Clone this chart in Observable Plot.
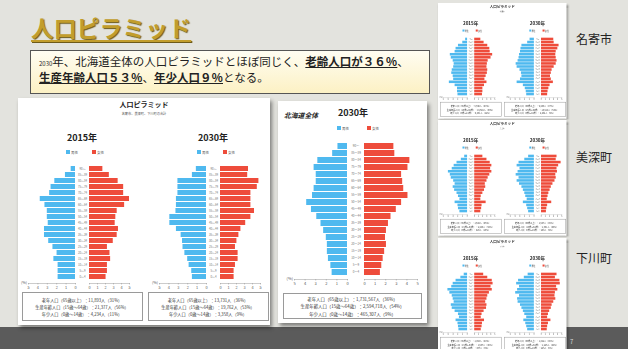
<!DOCTYPE html>
<html><head><meta charset="utf-8">
<script src="https://cdn.jsdelivr.net/npm/d3@7"></script>
<script src="https://cdn.jsdelivr.net/npm/@observablehq/plot@0.6"></script>
<style>
html,body{margin:0;padding:0;}
body{width:628px;height:349px;overflow:hidden;background:#e3e3de;font-family:"Noto Sans CJK JP",sans-serif;position:relative;}
.abs{position:absolute;}
.card{position:absolute;background:#fff;box-shadow:2px 3px 4px rgba(0,0,0,0.45);transform-origin:0 0;overflow:hidden;}
.sum{position:absolute;border:0.7px solid #9a9a9a;box-sizing:border-box;text-align:center;color:#333;}
.u{font-weight:bold;text-decoration:underline;text-underline-offset:1px;}
</style></head><body>
<script>
// ---- data ----
const ages = ["90～","85～89","80～84","75～79","70～74","65～69","60～64","55～59","50～54","45～49","40～44","35～39","30～34","25～29","20～24","15～19","10～14","5～9","0～4"];
const xTicks = [0,1,2,3,4,5];
const sexes = ["男性","女性"];

// 上川北部（合計）
const areaMale2015   = [0.46,1.07,2.2,2.6,2.75,3.75,3.25,3.0,3.0,2.9,3.3,3.3,2.85,2.4,1.96,2.3,1.85,1.85,1.85];
const areaFemale2015 = [1.67,2.48,3.58,4.27,4.27,5.0,4.39,3.46,3.29,3.21,3.62,3.46,2.97,2.24,2.56,2.64,2.24,2.24,2.07];
const areaMale2030   = [1.08,1.5,3.04,3.04,3.04,3.2,3.2,3.25,3.9,3.9,3.2,2.7,2.55,2.5,2.3,2.0,1.85,1.57,1.5];
const areaFemale2030 = [3.5,3.4,4.8,4.6,3.8,3.8,3.8,4.25,3.8,3.15,2.55,2.3,2.05,1.87,2.2,2.2,1.87,1.7,1.7];
// 北海道全体 2030
const hkdMale2030    = [0.9,1.4,2.8,3.15,2.95,2.95,3.15,3.3,3.85,3.4,2.9,2.5,2.25,2.0,1.9,1.9,1.8,1.57,1.45];
const hkdFemale2030  = [2.77,2.86,4.28,4.1,3.5,3.6,3.7,4.1,3.5,3.0,2.5,2.26,2.07,1.98,2.07,1.9,1.76,1.63,1.5];
// 名寄市
const nayoroMale2015   = [0.4,1.0,1.9,2.4,2.6,3.6,3.4,3.0,2.8,2.9,3.2,3.3,3.0,2.9,3.8,2.6,2.1,2.1,2.0];
const nayoroFemale2015 = [1.5,2.3,3.2,3.7,3.8,4.4,4.0,3.3,3.1,3.0,3.2,3.1,2.8,2.5,3.0,2.4,2.0,2.0,1.9];
const nayoroMale2030   = [0.9,1.4,2.6,2.8,2.9,3.1,3.2,3.4,3.8,3.6,3.0,2.7,2.6,2.9,3.6,2.3,1.9,1.7,1.6];
const nayoroFemale2030 = [3.0,3.1,4.3,4.0,3.6,3.5,3.6,3.8,3.6,3.1,2.6,2.4,2.2,2.4,2.9,2.1,1.8,1.6,1.5];
// 美深町
const bifukaMale2015   = [0.6,1.3,2.2,2.8,3.2,4.0,3.6,3.4,2.9,2.6,3.0,2.7,2.2,1.9,1.6,2.6,2.0,1.9,1.6];
const bifukaFemale2015 = [2.0,3.0,3.8,4.2,3.9,4.2,3.7,3.3,3.0,2.6,2.7,2.4,2.0,1.6,1.5,2.8,1.8,1.7,1.5];
const bifukaMale2030   = [1.2,2.0,3.2,3.6,3.0,3.4,3.8,3.2,3.6,3.1,2.6,2.3,2.0,1.8,1.5,2.3,1.6,1.4,1.2];
const bifukaFemale2030 = [3.8,3.6,4.8,4.2,3.8,3.9,3.5,3.6,3.3,2.8,2.4,2.1,1.8,1.6,1.4,2.5,1.5,1.3,1.2];
// 下川町
const shimoMale2015   = [0.7,1.4,2.4,3.0,3.3,4.1,3.7,3.2,3.0,2.8,3.4,3.2,2.6,1.9,1.7,2.4,2.0,1.9,1.8];
const shimoFemale2015 = [2.2,3.2,4.3,4.5,4.0,4.3,3.6,3.2,3.0,2.7,3.0,2.9,2.3,1.8,1.6,2.4,1.9,1.8,1.6];
const shimoMale2030   = [1.3,2.1,3.3,3.7,3.1,3.5,3.9,3.1,3.5,3.4,2.9,2.6,2.3,2.0,1.6,2.2,1.8,1.6,1.4];
const shimoFemale2030 = [3.8,3.4,4.5,4.6,3.7,4.0,3.4,3.3,3.5,3.0,2.6,2.4,2.0,1.7,1.5,2.3,1.7,1.5,1.4];

// summaries
const areaSum2015 = ["老年人口（65歳以上）：11,893人（31%）","生産年齢人口（15歳〜64歳）：21,377人（56%）","年少人口（0歳〜14歳）：4,234人（11%）"];
const areaSum2030 = ["老年人口（65歳以上）：13,731人（36%）","生産年齢人口（15歳〜64歳）：19,762人（53%）","年少人口（0歳〜14歳）：3,358人（9%）"];
const hkdSum2030  = ["老年人口（65歳以上）：1,731,567人（36%）","生産年齢人口（15歳〜64歳）：2,594,718人（54%）","年少人口（0歳〜14歳）：465,307人（9%）"];
const nayoroSum2015 = ["老年人口（65歳以上）：8,596人（30%）","生産年齢人口（15歳〜64歳）：16,632人（58%）","年少人口（0歳〜14歳）：3,401人（12%）"];
const nayoroSum2030 = ["老年人口（65歳以上）：9,483人（37%）","生産年齢人口（15歳〜64歳）：13,814人（54%）","年少人口（0歳〜14歳）：2,432人（9%）"];
const bifukaSum2015 = ["老年人口（65歳以上）：1,644人（36%）","生産年齢人口（15歳〜64歳）：2,448人（54%）","年少人口（0歳〜14歳）：429人（10%）"];
const bifukaSum2030 = ["老年人口（65歳以上）：1,547人（45%）","生産年齢人口（15歳〜64歳）：1,591人（46%）","年少人口（0歳〜14歳）：298人（9%）"];
const shimoSum2015 = ["老年人口（65歳以上）：1,453人（43%）","生産年齢人口（15歳〜64歳）：1,637人（48%）","年少人口（0歳〜14歳）：307人（9%）"];
const shimoSum2030 = ["老年人口（65歳以上）：1,312人（48%）","生産年齢人口（15歳〜64歳）：1,226人（44%）","年少人口（0歳〜14歳）：225人（8%）"];

const BLUE = "#4fb9ef", RED = "#ee4c3b";
const FONT = "'Noto Sans CJK JP', sans-serif";

// ---- helpers ----
function el(parent, tag, css, html) {
  const e = document.createElement(tag);
  e.style.cssText = css;
  if (html != null) e.innerHTML = html;
  parent.appendChild(e);
  return e;
}
function place(svg, left, top) {
  svg.style.position = "absolute";
  svg.style.left = left + "px";
  svg.style.top = top + "px";
}
function pyramid(parent, o) {
  const H = o.yBot - o.yTop, mb = o.mb || 8, ml = 10;
  const md = ages.map((a, i) => ({age: a, v: o.male[i]}));
  const fd = ages.map((a, i) => ({age: a, v: o.female[i]}));
  const style = {background: "none", fontFamily: FONT, overflow: "visible"};
  const axis = () => Plot.axisX({ticks: xTicks, tickFormat: d => d, tickSize: 1.5, tickPadding: 1.2,
    fontSize: o.fs, fill: "#555", stroke: "#999", strokeWidth: 0.5, label: null});
  const m = Plot.plot({
    width: ml + (o.x0m - o.x5m), height: H + mb,
    marginLeft: ml, marginRight: 0, marginTop: 0, marginBottom: mb,
    x: {domain: [0, 5], reverse: true},
    y: {domain: ages, padding: 0.14, axis: null},
    style,
    marks: [
      Plot.barX(md, {y: "age", x: "v", fill: BLUE}),
      Plot.frame({anchor: "bottom", stroke: "#999", strokeWidth: 0.5}),
      axis(),
      Plot.text(["(%)"], {frameAnchor: "bottom-left", textAnchor: "end", lineAnchor: "bottom", dx: -1.5, fontSize: o.fs, fill: "#555"})
    ]
  });
  place(m, o.x5m - ml, o.yTop);
  parent.appendChild(m);
  const gap = o.x0f - o.x0m;
  const f = Plot.plot({
    width: gap + (o.x5f - o.x0f) + 3, height: H + mb,
    marginLeft: gap, marginRight: 3, marginTop: 0, marginBottom: mb,
    x: {domain: [0, 5]},
    y: {domain: ages, padding: 0.14},
    style,
    marks: [
      Plot.barX(fd, {y: "age", x: "v", fill: RED}),
      Plot.frame({anchor: "bottom", stroke: "#999", strokeWidth: 0.5}),
      axis(),
      Plot.axisY({anchor: "left", tickSize: 0, tickPadding: gap / 2, textAnchor: "middle", fontSize: o.afs, fill: "#777", label: null})
    ]
  });
  place(f, o.x0m, o.yTop);
  parent.appendChild(f);
}
function legend(parent, bx, rx, y, fs) {
  el(parent, "div", `position:absolute;left:${bx}px;top:${y}px;width:4px;height:4px;background:${BLUE}`);
  el(parent, "div", `position:absolute;left:${bx + 5}px;top:${y - 0.5}px;font-size:${fs}px;line-height:5px;color:#555;white-space:nowrap`, sexes[0]);
  el(parent, "div", `position:absolute;left:${rx}px;top:${y}px;width:4px;height:4px;background:${RED}`);
  el(parent, "div", `position:absolute;left:${rx + 5}px;top:${y - 0.5}px;font-size:${fs}px;line-height:5px;color:#555;white-space:nowrap`, sexes[1]);
}
function summary(parent, left, top, w, h, lines, fs, lh) {
  const b = el(parent, "div", `left:${left}px;top:${top}px;width:${w}px;height:${h}px;font-size:${fs}px;line-height:${lh}px;padding-top:${(h - 3 * lh) / 2}px;white-space:nowrap`, lines.join("<br>"));
  b.className = "sum";
}
function makeCard(o) {
  const c = el(document.body, "div", `left:${o.left}px;top:${o.top}px;width:252px;height:227px;transform:scale(${o.scale});z-index:${o.z || 1}`);
  c.className = "card";
  el(c, "div", "position:absolute;left:0;top:2px;width:252px;text-align:center;font-size:7px;line-height:9px;font-weight:bold;color:#222", "人口ピラミッド");
  el(c, "div", "position:absolute;left:0;top:13.5px;width:252px;text-align:center;font-size:3.2px;line-height:4px;color:#555", o.subtitle);
  const cxs = [64, 195], bxs = [64, 190];
  o.panels.forEach((p, i) => {
    const cx = cxs[i];
    el(c, "div", `position:absolute;left:${cx - 30}px;top:34px;width:60px;text-align:center;font-size:9px;line-height:12px;font-weight:bold;color:#222`, p.year);
    legend(c, cx - 16, cx + 10, 52, 3.5);
    pyramid(c, {x5m: cx - 54, x0m: cx - 7, x0f: cx + 7, x5f: cx + 47, yTop: 64, yBot: 185, male: p.male, female: p.female, fs: 3.8, afs: 2.8});
    summary(c, bxs[i] - 60.5, 194, 121, 29, p.summary, 4.2, 7);
  });
  return c;
}

// ---- slide ----
el(document.body, "div", "position:absolute;left:0;top:327px;width:628px;height:22px;background:#5b5b5b");
el(document.body, "div", "position:absolute;left:570px;top:337px;font-size:6px;color:#ddd", "7");

// title
el(document.body, "div", "position:absolute;left:31px;top:14px;font-size:22.5px;line-height:27px;font-weight:bold;color:#c29d2c;letter-spacing:0.4px;text-decoration:underline;text-decoration-thickness:2px;text-underline-offset:3px;text-shadow:1px 1px 1px #6d5a18", "人口ピラミッド");

// message box
el(document.body, "div",
  "position:absolute;left:30px;top:50px;width:400px;height:44px;box-sizing:border-box;border:1.5px solid #555;background:linear-gradient(#fffdf2,#fcf1c4);padding:4px 0 0 8px;font-size:11.5px;line-height:13.5px;color:#222;white-space:nowrap",
  '<span style="font-size:6px">2030</span>年、北海道全体の人口ピラミッドとほぼ同じく、<span class="u">老齢人口が３６％</span>、<br><span class="u">生産年齢人口５３％</span>、<span class="u">年少人口９％</span>となる。');

// main left card
makeCard({left: 18, top: 98, scale: 1, subtitle: "名寄市、美深町、下川町の合計", panels: [
  {year: "2015年", male: areaMale2015, female: areaFemale2015, summary: areaSum2015},
  {year: "2030年", male: areaMale2030, female: areaFemale2030, summary: areaSum2030}
]});

// Hokkaido card
const hk = el(document.body, "div", "left:278px;top:101px;width:149px;height:222px");
hk.className = "card";
el(hk, "div", "position:absolute;left:6px;top:10px;font-size:6.8px;line-height:9px;font-weight:bold;color:#222;font-style:italic", "北海道全体");
el(hk, "div", "position:absolute;left:45px;top:6px;width:60px;text-align:center;font-size:9px;line-height:12px;font-weight:bold;color:#222", "2030年");
legend(hk, 59, 89, 25, 3.5);
pyramid(hk, {x5m: 16, x0m: 69, x0f: 86, x5f: 139, yTop: 39, yBot: 178, male: hkdMale2030, female: hkdFemale2030, fs: 4, afs: 3});
summary(hk, 5, 192, 139, 26, hkdSum2030, 4.4, 7.4);

// small cards
const S = 0.51;
makeCard({left: 438, top: 3, scale: S, subtitle: "名寄市", panels: [
  {year: "2015年", male: nayoroMale2015, female: nayoroFemale2015, summary: nayoroSum2015},
  {year: "2030年", male: nayoroMale2030, female: nayoroFemale2030, summary: nayoroSum2030}
]});
makeCard({left: 438, top: 120, scale: S, subtitle: "美深町", panels: [
  {year: "2015年", male: bifukaMale2015, female: bifukaFemale2015, summary: bifukaSum2015},
  {year: "2030年", male: bifukaMale2030, female: bifukaFemale2030, summary: bifukaSum2030}
]});
makeCard({left: 438, top: 238, scale: S, z: 3, subtitle: "下川町", panels: [
  {year: "2015年", male: shimoMale2015, female: shimoFemale2015, summary: shimoSum2015},
  {year: "2030年", male: shimoMale2030, female: shimoFemale2030, summary: shimoSum2030}
]});

// town labels
el(document.body, "div", "position:absolute;left:576px;top:31px;font-size:12px;line-height:15px;color:#222", "名寄市");
el(document.body, "div", "position:absolute;left:576px;top:149px;font-size:12px;line-height:15px;color:#222", "美深町");
el(document.body, "div", "position:absolute;left:576px;top:250px;font-size:12px;line-height:15px;color:#222", "下川町");
</script>
</body></html>
